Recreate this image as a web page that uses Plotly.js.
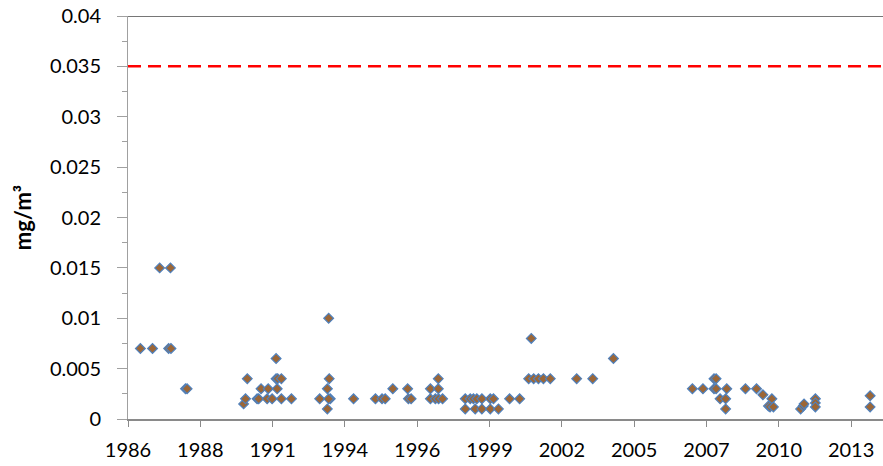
<!DOCTYPE html>
<html>
<head>
<meta charset="utf-8">
<script src="https://cdn.plot.ly/plotly-3.0.1.min.js"></script>
<style>
html,body{margin:0;padding:0;background:#fff;}
#chart{width:883px;height:466px;}
</style>
</head>
<body>
<div id="chart"></div>
<script>
// Sampling times (decimal years) and measured concentrations (mg/m³)
const sampleYears = [
  1986.47, 1986.93, 1987.20, 1987.61, 1987.54, 1987.63, 1988.18, 1988.24,
  1990.38, 1990.45, 1990.52, 1990.89, 1990.95, 1991.04, 1991.27, 1991.31,
  1991.46, 1991.61, 1991.61, 1991.67, 1991.65, 1991.81, 1991.81, 1992.19,
  1993.26, 1993.60, 1993.62, 1993.55, 1993.66, 1993.60, 1993.55,
  1994.54, 1995.37, 1995.62, 1995.74, 1996.03, 1996.59, 1996.62, 1996.72,
  1997.45, 1997.45, 1997.75, 1997.75, 1997.64, 1997.76, 1997.91,
  1998.77, 1998.77, 1998.96, 1999.08, 1999.21, 1999.40, 1999.72, 1999.84,
  1999.15, 1999.40, 1999.72, 2000.03, 2000.45, 2000.83,
  2001.27, 2001.17, 2001.36, 2001.54, 2001.73, 2001.99, 2002.99, 2003.60, 2004.38,
  2007.37, 2007.77, 2008.19, 2008.27, 2008.19, 2008.27, 2008.67, 2008.42, 2008.63, 2008.63,
  2009.38, 2009.80, 2010.04, 2010.38, 2010.25, 2010.31, 2010.44,
  2011.47, 2011.57, 2011.60, 2012.03, 2012.03, 2012.03, 2014.10, 2014.10
];
const concentrations = [
  0.007, 0.007, 0.015, 0.015, 0.007, 0.007, 0.003, 0.003,
  0.0015, 0.002, 0.004, 0.002, 0.002, 0.003, 0.002, 0.003,
  0.002, 0.006, 0.004, 0.004, 0.003, 0.004, 0.002, 0.002,
  0.002, 0.010, 0.004, 0.003, 0.002, 0.002, 0.001,
  0.002, 0.002, 0.002, 0.002, 0.003, 0.003, 0.002, 0.002,
  0.003, 0.002, 0.004, 0.003, 0.002, 0.002, 0.002,
  0.002, 0.001, 0.002, 0.002, 0.002, 0.002, 0.002, 0.002,
  0.001, 0.001, 0.001, 0.001, 0.002, 0.002,
  0.008, 0.004, 0.004, 0.004, 0.004, 0.004, 0.004, 0.004, 0.006,
  0.003, 0.003, 0.004, 0.004, 0.003, 0.003, 0.003, 0.002, 0.002, 0.001,
  0.003, 0.003, 0.0024, 0.002, 0.0013, 0.0012, 0.0012,
  0.001, 0.0013, 0.0015, 0.002, 0.0016, 0.0012, 0.0023, 0.0012
];
const limitValue = 0.035;
const yTitle = 'mg/m³';
const xStart = '1986-01-01';
const xEnd = '2014-08-03';

function yearToDate(y) {
  const yr = Math.floor(y);
  const start = Date.UTC(yr, 0, 1);
  const end = Date.UTC(yr + 1, 0, 1);
  const d = new Date(start + (y - yr) * (end - start));
  return d.toISOString().slice(0, 10);
}
const xDates = sampleYears.map(yearToDate);

const font = 'Lato, "Open Sans", sans-serif';

const trace = {
  type: 'scatter',
  mode: 'markers',
  x: xDates,
  y: concentrations,
  marker: {
    symbol: 'diamond',
    size: 7.5,
    color: '#9C6636',
    line: {color: '#4F81BD', width: 1.2}
  },
  hoverinfo: 'x+y',
  showlegend: false
};

const layout = {
  width: 883,
  height: 466,
  margin: {l: 128, r: 0, t: 16, b: 47},
  paper_bgcolor: '#ffffff',
  plot_bgcolor: '#ffffff',
  font: {family: font, size: 20, color: '#000000'},
  xaxis: {
    type: 'date',
    range: [xStart, xEnd],
    tick0: xStart,
    dtick: 1000 * 86400000,
    tickformat: '%Y',
    showgrid: false,
    zeroline: false,
    showline: true,
    linecolor: '#8a8a8a',
    linewidth: 2,
    ticks: 'outside',
    ticklen: 6,
    tickwidth: 1,
    tickcolor: '#8a8a8a',
    ticklabelstandoff: 6,
    tickfont: {family: font, size: 20, color: '#000'}
  },
  yaxis: {
    range: [0, 0.04],
    dtick: 0.005,
    tick0: 0,
    showgrid: false,
    zeroline: false,
    showline: true,
    linecolor: '#a0a0a0',
    linewidth: 1,
    ticks: 'outside',
    ticklen: 10,
    tickwidth: 1,
    tickcolor: '#a0a0a0',
    minor: {dtick: 0.0025, ticks: 'outside', ticklen: 5, tickwidth: 1, tickcolor: '#a0a0a0', showgrid: false},
    ticklabelstandoff: 12,
    tickfont: {family: font, size: 20, color: '#000'},
    title: {text: yTitle, font: {family: font, size: 22, color: '#000', weight: 'bold'}, standoff: 12}
  },
  shapes: [
    {type: 'line', xref: 'paper', x0: 0, x1: 1, yref: 'y', y0: limitValue, y1: limitValue,
     line: {color: '#ff0000', width: 2.5, dash: '13px,7px'}},
    {type: 'line', xref: 'paper', x0: 0, x1: 1, yref: 'y', y0: 0.04, y1: 0.04,
     line: {color: '#767676', width: 2}}
  ]
};

Plotly.newPlot('chart', [trace], layout, {displayModeBar: false, staticPlot: true});
</script>
</body>
</html>
